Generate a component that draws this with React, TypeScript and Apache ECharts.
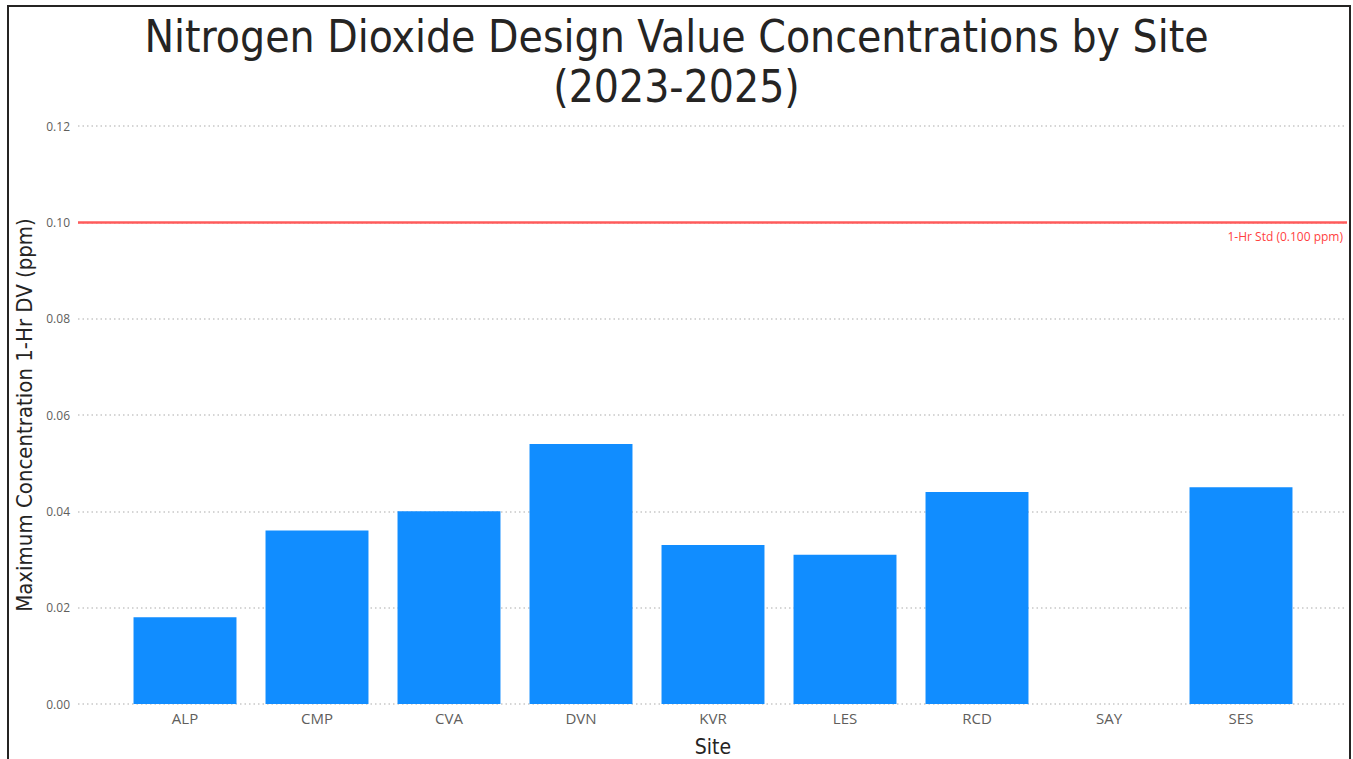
import React, { useEffect, useRef } from "react";
import * as echarts from "echarts";

const TITLE = "Nitrogen Dioxide Design Value Concentrations by Site\n(2023-2025)";
const SITES = ["ALP", "CMP", "CVA", "DVN", "KVR", "LES", "RCD", "SAY", "SES"];
const DV_VALUES: (number | null)[] = [0.018, 0.036, 0.04, 0.054, 0.033, 0.031, 0.044, null, 0.045];
const Y_MIN = 0;
const Y_MAX = 0.12;
const Y_INTERVAL = 0.02;
const STANDARD = 0.1;
const STANDARD_LABEL = `1-Hr Std (${STANDARD.toFixed(3)} ppm)`;
const Y_NAME = "Maximum Concentration 1-Hr DV (ppm)";
const X_NAME = "Site";

export default function App() {
  const ref = useRef<HTMLDivElement>(null);
  useEffect(() => {
    if (!ref.current) return;
    const chart = echarts.init(ref.current, null, { renderer: "svg" });
    const tickFont = "'Open Sans', 'Noto Sans', sans-serif";
    const titleFont = "'DejaVu Sans Condensed', 'DejaVu Sans', sans-serif";
    chart.setOption({
      animation: false,
      backgroundColor: "#ffffff",
      title: {
        text: TITLE,
        left: "center",
        top: 6,
        textStyle: {
          fontFamily: titleFont,
          fontSize: 44,
          fontWeight: "normal",
          color: "#252423",
          lineHeight: 50,
        },
      },
      graphic: [
        {
          type: "rect",
          shape: { x: 8, y: 6, width: 1342, height: 800 },
          style: { fill: "none", stroke: "#252423", lineWidth: 2 },
          silent: true,
        },
      ],
      grid: [
        { left: 78, right: 6, top: 126, bottom: 55, containLabel: false, outerBoundsMode: "none" },
        { left: 119, right: 46, top: 126, bottom: 55, containLabel: false, outerBoundsMode: "none" },
      ],
      xAxis: [
        { gridIndex: 0, type: "value", min: 0, max: 1, show: false },
        {
          gridIndex: 1,
          type: "category",
          data: SITES,
          axisLine: { show: false },
          axisTick: { show: false },
          axisLabel: { color: "#605E5C", fontSize: 15, fontFamily: tickFont, margin: 6 },
          name: X_NAME,
          nameLocation: "middle",
          nameGap: 32,
          nameTextStyle: { fontFamily: titleFont, fontSize: 21, color: "#252423" },
        },
      ],
      yAxis: [
        {
          gridIndex: 0,
          type: "value",
          min: Y_MIN,
          max: Y_MAX,
          interval: Y_INTERVAL,
          axisLine: { show: false },
          axisTick: { show: false },
          axisLabel: {
            color: "#605E5C",
            fontSize: 12,
            fontFamily: tickFont,
            margin: 8,
            formatter: (v: number) => v.toFixed(2),
          },
          splitLine: { show: true, lineStyle: { type: [1.5, 3], color: "#C8C8C8", width: 1.5 } },
          name: Y_NAME,
          nameLocation: "middle",
          nameGap: 30,
          nameRotate: 90,
          nameTextStyle: { fontFamily: titleFont, fontSize: 22, color: "#252423" },
        },
        {
          gridIndex: 1,
          type: "value",
          min: Y_MIN,
          max: Y_MAX,
          interval: Y_INTERVAL,
          show: false,
          splitLine: { show: false },
        },
      ],
      series: [
        {
          type: "line",
          xAxisIndex: 0,
          yAxisIndex: 0,
          data: [],
          silent: true,
          markLine: {
            silent: true,
            symbol: "none",
            lineStyle: { color: "#FF5B5B", width: 2.5, type: "solid" },
            label: {
              show: true,
              position: "insideEndBottom",
              formatter: STANDARD_LABEL,
              color: "#FF3F3F",
              fontSize: 12,
              fontFamily: tickFont,
              distance: [4, 8],
            },
            data: [{ yAxis: STANDARD }],
          },
        },
        {
          type: "bar",
          xAxisIndex: 1,
          yAxisIndex: 1,
          data: DV_VALUES,
          barWidth: "78%",
          itemStyle: { color: "#118DFF" },
        },
      ],
    });
    return () => chart.dispose();
  }, []);
  return (
    <div
      ref={ref}
      style={{ position: "absolute", left: 0, top: 0, width: 1353, height: 759 }}
    />
  );
}
